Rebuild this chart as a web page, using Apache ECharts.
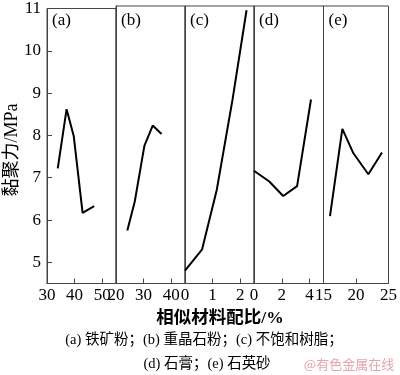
<!DOCTYPE html>
<html><head><meta charset="utf-8">
<script src="https://cdn.jsdelivr.net/npm/echarts@6/dist/echarts.min.js"></script>
<style>html,body{margin:0;padding:0;background:#fff}#c{width:400px;height:375px}</style>
</head><body><div id="c"></div>
<script>
// Panel data: x = similar-material ratio (%), y = cohesion (MPa)
const panelNames = ['(a)', '(b)', '(c)', '(d)', '(e)'];
const xA = [33.9, 37.1, 39.7, 42.9, 47.1];
const yA = [7.22, 8.62, 7.98, 6.17, 6.33];
const xB = [24.1, 26.8, 30.3, 33.3, 36.5];
const yB = [5.74, 6.42, 7.73, 8.2, 8.0];
const xC = [0, 0.62, 1.15, 1.72, 2.23];
const yC = [4.8, 5.3, 6.69, 8.8, 10.9];
const xD = [0, 1.1, 2.1, 3.1, 4.1];
const yD = [7.14, 6.89, 6.55, 6.78, 8.81];
const xE = [16.0, 17.9, 19.6, 21.9, 24.0];
const yE = [6.08, 8.12, 7.55, 7.06, 7.57];
// Axis ranges and tick labels per panel
const xMins = [30, 20, 0, 0, 15];
const xMaxs = [55, 45, 2.5, 5, 25];
const xLabels = [[30, 40, 50], [20, 30, 40], [0, 1, 2], [0, 2, 4], [15, 20, 25]];
const xTicks = [[40, 50], [30, 40], [1, 2], [2, 4], [20]];
const yLabels = [5, 6, 7, 8, 9, 10, 11];
const yTicks = [5, 6, 7, 8, 9, 10];
const yMin = 4.5, yMax = 11;
const yName = '黏聚力/MPa';
const xName = '相似材料配比/%';
const caption1 = '(a) 铁矿粉；(b) 重晶石粉；(c) 不饱和树脂；';
const caption2 = '(d) 石膏；(e) 石英砂';
const watermark = '@有色金属在线';

const xs = [xA, xB, xC, xD, xE];
const ys = [yA, yB, yC, yD, yE];
const FONT = '"Liberation Serif", "Noto Sans CJK SC", serif';
const lefts = [47, 116, 185, 254, 323.5];
const widths = [69, 69, 69, 69.5, 68.5];
const lineCol = '#444';

const grid = [], xAxis = [], yAxis = [], series = [];
for (let i = 0; i < 5; i++) {
  grid.push({left: lefts[i], top: 6, width: widths[i], height: 277.5, show: true,
    borderColor: lineCol, borderWidth: 1, containLabel: false});
  xAxis.push({type: 'value', gridIndex: i, min: xMins[i], max: xMaxs[i],
    splitLine: {show: false},
    axisLine: {show: true, lineStyle: {color: lineCol, width: 1}},
    axisTick: {show: true, inside: true, length: 5, lineStyle: {color: lineCol}, customValues: xTicks[i]},
    axisLabel: {show: true, customValues: xLabels[i], color: '#000', fontFamily: FONT, fontSize: 17, margin: 4, hideOverlap: false}
  });
  yAxis.push({type: 'value', gridIndex: i, min: yMin, max: yMax,
    splitLine: {show: false},
    axisLine: {show: true, lineStyle: {color: lineCol, width: 1}},
    axisTick: {show: i === 0, inside: true, length: 5, lineStyle: {color: lineCol}, customValues: yTicks},
    axisLabel: {show: i === 0, customValues: yLabels, color: '#000', fontFamily: FONT, fontSize: 17, margin: 6, hideOverlap: false}
  });
  series.push({type: 'line', xAxisIndex: i, yAxisIndex: i, symbol: 'none',
    data: xs[i].map((x, k) => [x, ys[i][k]]),
    lineStyle: {color: '#000', width: 2}, silent: true, animation: false});
}

const graphic = [];
for (let i = 0; i < 5; i++) {
  graphic.push({type: 'text', left: lefts[i] + 5, top: 12,
    style: {text: panelNames[i], font: '17px ' + FONT, fill: '#000'}});
}
graphic.push({type: 'text', x: 12, y: 150, rotation: Math.PI / 2,
  style: {text: yName, font: '18px ' + FONT, fill: '#000', textAlign: 'center', textVerticalAlign: 'middle'}});
graphic.push({type: 'text', x: 220, y: 318,
  style: {text: xName, font: 'bold 17.5px ' + FONT, fill: '#000', textAlign: 'center', textVerticalAlign: 'middle'}});
graphic.push({type: 'text', x: 204, y: 340,
  style: {text: caption1, font: '14.5px ' + FONT, fill: '#000', textAlign: 'center', textVerticalAlign: 'middle'}});
graphic.push({type: 'text', x: 207, y: 364,
  style: {text: caption2, font: '14.5px ' + FONT, fill: '#000', textAlign: 'center', textVerticalAlign: 'middle'}});
graphic.push({type: 'text', x: 349, y: 364,
  style: {text: watermark, font: '13px "Noto Sans CJK SC", sans-serif', fill: '#eaa2ab', textAlign: 'center', textVerticalAlign: 'middle'}});

const chart = echarts.init(document.getElementById('c'), null, {renderer: 'canvas'});
chart.setOption({animation: false, backgroundColor: '#fff', grid, xAxis, yAxis, series, graphic});
</script></body></html>
